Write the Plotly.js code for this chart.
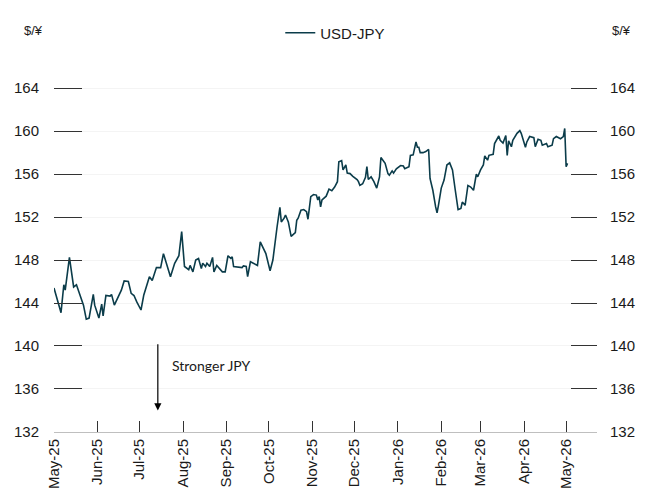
<!DOCTYPE html>
<html>
<head>
<meta charset="utf-8">
<script src="https://cdn.plot.ly/plotly-3.0.1.min.js"></script>
<style>html,body{margin:0;padding:0;background:#fff;}#chart{width:654px;height:504px;}</style>
</head>
<body>
<div id="chart"></div>
<script>
const seriesName = 'USD-JPY';
const unitLabel = '$/¥';
const noteText = 'Stronger JPY';
const yTicks = [132, 136, 140, 144, 148, 152, 156, 160, 164];

const dates = [
'2025-05-01','2025-05-06','2025-05-08','2025-05-09','2025-05-12','2025-05-15','2025-05-17','2025-05-21','2025-05-22','2025-05-24',
'2025-05-26','2025-05-29','2025-05-30','2025-06-02','2025-06-04','2025-06-05','2025-06-07','2025-06-10','2025-06-11','2025-06-13',
'2025-06-16','2025-06-18','2025-06-20','2025-06-23','2025-06-25','2025-06-27','2025-06-29','2025-07-02','2025-07-04','2025-07-08',
'2025-07-10','2025-07-13','2025-07-16','2025-07-18','2025-07-23','2025-07-26','2025-07-29','2025-07-31','2025-08-02','2025-08-05',
'2025-08-06','2025-08-08','2025-08-10','2025-08-12','2025-08-14','2025-08-15','2025-08-17','2025-08-18','2025-08-20','2025-08-22',
'2025-08-23','2025-08-25','2025-08-29','2025-08-31','2025-09-02','2025-09-04','2025-09-05','2025-09-06','2025-09-12','2025-09-13',
'2025-09-15','2025-09-16','2025-09-18','2025-09-20','2025-09-23','2025-09-25','2025-09-27','2025-09-29','2025-10-02','2025-10-04',
'2025-10-07','2025-10-09','2025-10-10','2025-10-12','2025-10-13','2025-10-15','2025-10-17','2025-10-19','2025-10-20','2025-10-21',
'2025-10-22','2025-10-24','2025-10-26','2025-10-28','2025-10-29','2025-10-31','2025-11-02','2025-11-04','2025-11-05','2025-11-06',
'2025-11-07','2025-11-08','2025-11-11','2025-11-13','2025-11-15','2025-11-17','2025-11-19','2025-11-20','2025-11-22','2025-11-23',
'2025-11-25','2025-11-26','2025-11-28','2025-11-30','2025-12-03','2025-12-04','2025-12-05','2025-12-07','2025-12-09','2025-12-10',
'2025-12-11','2025-12-13','2025-12-15','2025-12-17','2025-12-19','2025-12-20','2025-12-23','2025-12-25','2025-12-26','2025-12-28',
'2025-12-29','2025-12-31','2026-01-03','2026-01-05','2026-01-06','2026-01-09','2026-01-10','2026-01-12','2026-01-14','2026-01-15',
'2026-01-16','2026-01-17','2026-01-19','2026-01-21','2026-01-23','2026-01-24','2026-01-26','2026-01-28','2026-01-29','2026-01-30',
'2026-02-01','2026-02-03','2026-02-05','2026-02-07','2026-02-09','2026-02-11','2026-02-13','2026-02-15','2026-02-16','2026-02-18',
'2026-02-20','2026-02-22','2026-02-24','2026-02-26','2026-02-27','2026-03-01','2026-03-03','2026-03-04','2026-03-06','2026-03-07',
'2026-03-10','2026-03-11','2026-03-14','2026-03-15','2026-03-17','2026-03-19','2026-03-20','2026-03-21','2026-03-23','2026-03-24',
'2026-03-27','2026-03-29','2026-03-30','2026-04-02','2026-04-03','2026-04-05','2026-04-08','2026-04-09','2026-04-11','2026-04-13',
'2026-04-14','2026-04-17','2026-04-18','2026-04-21','2026-04-22','2026-04-24','2026-04-27','2026-04-29','2026-04-30','2026-05-01',
'2026-05-02'
];

const usdJpy = [
145.4,143.1,145.7,145.2,148.25,145.5,145.7,144.0,143.8,142.5,
142.6,144.8,143.8,142.6,143.9,142.8,144.7,144.65,144.8,143.8,
144.6,145.2,146.05,146.0,144.9,144.7,144.1,143.35,144.75,146.45,
146.1,147.3,147.3,148.6,146.45,147.7,148.4,150.65,147.4,147.1,
147.5,146.9,148.0,148.15,147.2,147.7,147.4,147.7,147.4,148.25,
146.9,147.5,146.9,146.9,148.4,148.15,148.3,147.4,147.3,147.45,
147.4,146.45,147.85,147.7,147.5,149.7,149.2,148.6,147.0,148.0,
151.1,152.9,151.55,151.9,152.2,151.55,150.2,150.5,150.55,151.7,
151.9,152.65,152.7,152.5,151.8,153.9,154.1,154.05,153.6,153.9,
152.95,153.6,153.95,154.6,154.45,154.8,155.3,157.15,157.25,156.4,
156.85,156.1,156.05,155.8,155.5,155.3,154.95,155.1,155.7,156.7,
155.5,155.75,155.3,154.7,155.75,157.55,157.0,156.05,155.9,156.3,
156.1,156.5,156.8,156.75,156.5,156.7,157.75,157.8,159.0,158.5,
158.5,158.0,158.0,158.1,158.3,155.6,154.5,152.95,152.4,153.1,
154.7,155.45,156.85,157.05,156.4,154.5,152.7,152.8,153.4,153.1,
154.95,154.8,154.5,156.0,155.75,156.4,156.85,157.7,157.3,157.75,
157.85,158.85,159.55,159.15,158.9,159.6,157.75,159.1,158.55,159.15,
159.8,160.05,159.8,158.5,159.0,159.5,159.4,158.55,159.25,159.15,
158.7,158.85,158.55,158.7,159.3,159.5,159.3,159.5,160.25,156.7,
157.0
];

const tickFont = {family: 'Liberation Sans, Arial, sans-serif', size: 15, color: '#1a1a1a'};

const traces = [
  {
    x: dates, y: usdJpy, type: 'scatter', mode: 'lines', name: seriesName,
    line: {color: '#0b3c4a', width: 1.6}, showlegend: true
  },
  {
    x: [dates[0]], y: [usdJpy[0]], yaxis: 'y2', type: 'scatter', mode: 'lines',
    line: {width: 0}, showlegend: false, hoverinfo: 'skip'
  }
];

const yRange = [131.99, 164.3];

const layout = {
  width: 654, height: 504,
  margin: {l: 54, r: 57, t: 85, b: 72},
  paper_bgcolor: '#fff', plot_bgcolor: '#fff',
  font: tickFont,
  showlegend: true,
  legend: {
    orientation: 'h', x: 0.518, xanchor: 'center', y: 1.15, yanchor: 'middle',
    font: {family: 'Liberation Sans, Arial, sans-serif', size: 15, color: '#1a1a1a'},
    itemwidth: 30, bgcolor: 'rgba(0,0,0,0)'
  },
  xaxis: {
    type: 'date', range: ['2025-05-01', '2026-05-23'],
    tick0: '2025-05-01', dtick: 'M1', tickformat: '%b-%y', tickangle: -90,
    ticks: 'inside', ticklen: 11, tickcolor: '#333', tickwidth: 1,
    showline: true, linecolor: '#bfbfbf', linewidth: 1,
    showgrid: false, zeroline: false, tickfont: tickFont
  },
  yaxis: {
    range: yRange, tickvals: yTicks, ticktext: yTicks.map(String),
    ticks: 'inside', ticklen: 28, tickcolor: '#333', tickwidth: 1,
    showline: false, showgrid: true, gridcolor: '#f4f4f4', zeroline: false,
    ticklabelstandoff: 14, tickfont: tickFont
  },
  yaxis2: {
    overlaying: 'y', side: 'right', range: yRange, tickvals: yTicks, ticktext: yTicks.map(String),
    ticks: 'inside', ticklen: 26, tickcolor: '#333', tickwidth: 1,
    showline: false, showgrid: false, zeroline: false,
    ticklabelstandoff: 12, tickfont: tickFont
  },
  annotations: [
    {xref: 'paper', yref: 'paper', x: -0.059, y: 1.158, xanchor: 'left', yanchor: 'middle',
     text: unitLabel, showarrow: false, font: {family: 'Liberation Sans, Arial, sans-serif', size: 13, color: '#1a1a1a'}},
    {xref: 'paper', yref: 'paper', x: 1.024, y: 1.158, xanchor: 'left', yanchor: 'middle',
     text: unitLabel, showarrow: false, font: {family: 'Liberation Sans, Arial, sans-serif', size: 13, color: '#1a1a1a'}},
    {xref: 'x', yref: 'y', x: '2025-07-14', y: 134.0, axref: 'x', ayref: 'y', ax: '2025-07-14', ay: 140.3,
     text: '', showarrow: true, arrowhead: 2, arrowsize: 1.2, arrowwidth: 1.2, arrowcolor: '#000'},
    {xref: 'x', yref: 'y', x: '2025-07-23', y: 138.2, xanchor: 'left', yanchor: 'middle',
     text: noteText, showarrow: false, font: {family: 'Lato, Open Sans, sans-serif', size: 14, color: '#1a1a1a'}}
  ]
};

Plotly.newPlot('chart', traces, layout, {displayModeBar: false, staticPlot: true});
</script>
</body>
</html>
